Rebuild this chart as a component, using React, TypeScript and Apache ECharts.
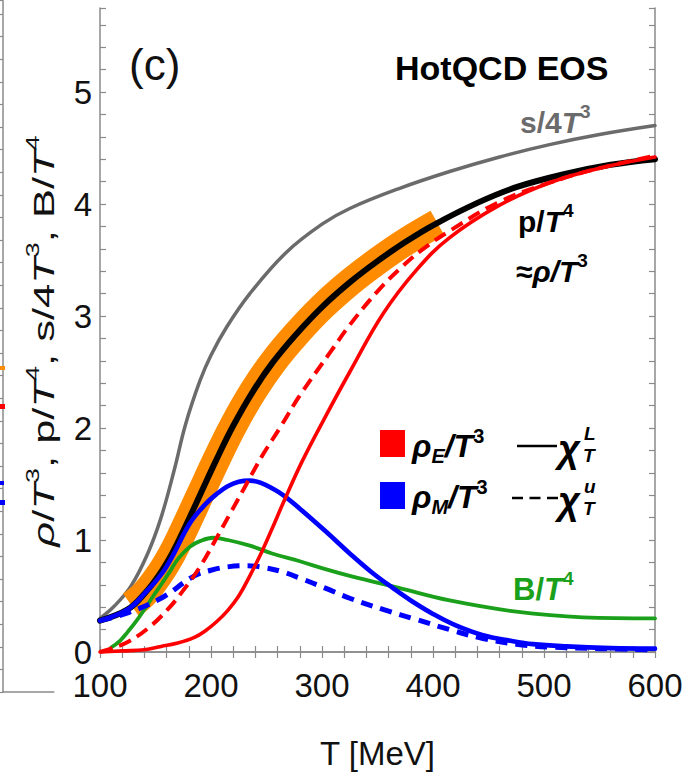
import React, { useEffect, useRef } from 'react';
import * as echarts from 'echarts';

// ---------- data (T in MeV, value dimensionless) ----------
const grayT = [100, 113, 128, 143, 155, 167, 177, 190, 200, 214, 235, 268, 300, 325, 370, 415, 460, 505, 550, 600];
const grayV = [0.30, 0.41, 0.59, 0.88, 1.20, 1.63, 2.03, 2.42, 2.65, 2.90, 3.20, 3.57, 3.82, 3.96, 4.14, 4.29, 4.42, 4.53, 4.62, 4.70];

const blackT = [100, 125, 140, 154, 165, 175, 190, 205, 220, 238, 256, 277, 300, 325, 350, 375, 400, 440, 475, 520, 560, 600];
const blackV = [0.28, 0.38, 0.52, 0.70, 0.88, 1.08, 1.40, 1.72, 2.02, 2.33, 2.59, 2.84, 3.08, 3.30, 3.49, 3.66, 3.81, 4.01, 4.15, 4.27, 4.35, 4.40];

const bandT = [128, 140, 154, 165, 175, 190, 205, 220, 238, 256, 277, 300, 325, 350, 375, 404];
const bandV = [0.42, 0.52, 0.70, 0.88, 1.08, 1.40, 1.72, 2.02, 2.33, 2.59, 2.84, 3.08, 3.30, 3.49, 3.66, 3.83];

const redLT = [100, 120, 140, 155, 170, 185, 195, 205, 215, 225, 235, 246, 255, 265, 282, 303, 325, 355, 385, 415, 460, 505, 550, 600];
const redLV = [0.00, 0.01, 0.02, 0.05, 0.08, 0.13, 0.19, 0.27, 0.37, 0.50, 0.68, 0.90, 1.10, 1.33, 1.70, 2.10, 2.50, 3.02, 3.41, 3.70, 3.99, 4.19, 4.32, 4.42];

const redUT = [100, 110, 125, 143, 161, 175, 190, 204, 218, 232, 246, 262, 280, 307, 325, 350, 370, 390, 415, 460, 505, 550, 600];
const redUV = [0.00, 0.03, 0.09, 0.21, 0.38, 0.55, 0.76, 1.00, 1.25, 1.50, 1.75, 2.00, 2.29, 2.67, 2.92, 3.22, 3.42, 3.59, 3.76, 4.02, 4.19, 4.32, 4.43];

const blueLT = [100, 125, 140, 155, 165, 181, 195, 205, 215, 225, 235, 245, 257, 265, 280, 303, 325, 345, 364, 380, 400, 420, 445, 470, 490, 520, 560, 600];
const blueLV = [0.28, 0.38, 0.52, 0.69, 0.85, 1.15, 1.32, 1.41, 1.48, 1.52, 1.53, 1.51, 1.45, 1.40, 1.28, 1.08, 0.88, 0.71, 0.57, 0.46, 0.34, 0.24, 0.15, 0.10, 0.07, 0.05, 0.035, 0.03];

const blueUT = [100, 125, 155, 185, 200, 215, 233, 250, 263, 280, 303, 325, 355, 385, 415, 445, 475, 505, 550, 600];
const blueUV = [0.28, 0.35, 0.48, 0.68, 0.73, 0.76, 0.77, 0.75, 0.72, 0.66, 0.57, 0.48, 0.38, 0.29, 0.20, 0.12, 0.07, 0.044, 0.03, 0.02];

const greenT = [110, 118, 125, 133, 140, 148, 155, 163, 171, 181, 190, 202, 215, 235, 255, 280, 303, 325, 370, 415, 475, 535, 600];
const greenV = [0.04, 0.10, 0.18, 0.28, 0.38, 0.50, 0.60, 0.72, 0.84, 0.94, 0.99, 1.02, 1.00, 0.95, 0.88, 0.81, 0.74, 0.68, 0.57, 0.46, 0.36, 0.31, 0.30];

// axis ranges / ticks
const xMin = 100, xMax = 600, xStep = 20, xLabelStep = 100;
const yMin = 0, yMax = 5.75, yStep = 0.2;

const FF = '"Liberation Sans", Arial, Helvetica, sans-serif';
const FRAME = '#8a8a8a';

const pairs = (t: number[], v: number[]) => t.map((x, i) => [x, v[i]]);

function richSet(size: number, color: string, weight: string, mainItalic = false) {
  const small = Math.round(size * 0.62);
  const base = { fontSize: size, fontFamily: FF, fontWeight: weight, fill: color, lineHeight: 40, verticalAlign: 'middle' };
  return {
    n: { ...base, fontStyle: mainItalic ? 'italic' : 'normal' },
    i: { ...base, fontStyle: 'italic' },
    s: { fontSize: small, fontFamily: FF, fontWeight: weight, fill: color, fontStyle: 'normal', lineHeight: 15, verticalAlign: 'top' },
    d: { fontSize: small, fontFamily: FF, fontWeight: weight, fill: color, fontStyle: 'italic', lineHeight: 30, verticalAlign: 'bottom' },
  };
}

function txt(x: number, y: number, text: string, rich: any, extra: any = {}) {
  return {
    type: 'text',
    x,
    y,
    z: 100,
    ...extra,
    style: { text, rich, align: 'left', verticalAlign: 'middle', fontFamily: FF },
  };
}

function plain(x: number, y: number, text: string, size: number, color: string, weight: string, style = 'normal') {
  return {
    type: 'text',
    x,
    y,
    z: 100,
    style: { text, fill: color, fontSize: size, fontFamily: FF, fontWeight: weight, fontStyle: style, align: 'left', verticalAlign: 'middle' },
  };
}

function lineSeries(name: string, t: number[], v: number[], color: string, width: number, dash: any = 'solid', cap = 'round') {
  return {
    name,
    type: 'line',
    data: pairs(t, v),
    showSymbol: false,
    symbol: 'none',
    smooth: 0.4,
    clip: false,
    silent: true,
    lineStyle: { color, width, type: dash, cap, join: 'round' },
  };
}

export default function App() {
  const ref = useRef<HTMLDivElement>(null);

  useEffect(() => {
    const chart = echarts.init(ref.current!, null, { renderer: 'svg' });

    const isMult = (v: number, s: number) => Math.abs(v / s - Math.round(v / s)) < 1e-6;

    const commonAxisLine = { show: true, lineStyle: { color: FRAME, width: 1.5 } };
    const commonTick = { show: true, inside: true, length: 6, lineStyle: { color: FRAME, width: 1.2 } };

    const option: any = {
      animation: false,
      backgroundColor: '#ffffff',
      grid: [
        { left: 100, top: 8, width: 555, height: 652, containLabel: false },
        { left: -200, top: 0, width: 203, height: 692, containLabel: false },
      ],
      xAxis: [
        {
          gridIndex: 0, type: 'value', min: xMin, max: xMax, interval: xStep, position: 'bottom',
          axisLine: commonAxisLine, axisTick: commonTick, splitLine: { show: false },
          axisLabel: {
            formatter: (v: number) => (isMult(v, xLabelStep) ? String(v) : ''),
            fontSize: 33, color: '#111', fontFamily: FF, margin: 17,
          },
          name: 'T [MeV]', nameLocation: 'middle', nameGap: 85,
          nameTextStyle: { fontSize: 33, color: '#111', fontFamily: FF },
        },
        {
          gridIndex: 0, type: 'value', min: xMin, max: xMax, interval: xStep, position: 'top',
          axisLine: commonAxisLine, axisTick: commonTick, splitLine: { show: false }, axisLabel: { show: false },
        },
        {
          gridIndex: 1, type: 'value', min: 0, max: 1, position: 'bottom',
          axisLine: commonAxisLine, axisTick: { show: false }, splitLine: { show: false }, axisLabel: { show: false },
        },
      ],
      yAxis: [
        {
          gridIndex: 0, type: 'value', min: yMin, max: yMax, interval: yStep, position: 'left',
          axisLine: commonAxisLine, axisTick: commonTick, splitLine: { show: false },
          axisLabel: {
            formatter: (v: number) => (isMult(v, 1) ? String(Math.round(v)) : ''),
            fontSize: 33, color: '#111', fontFamily: FF, margin: 8,
          },
        },
        {
          gridIndex: 0, type: 'value', min: yMin, max: yMax, interval: yStep, position: 'right',
          axisLine: commonAxisLine, axisTick: commonTick, splitLine: { show: false }, axisLabel: { show: false },
        },
        {
          gridIndex: 1, type: 'value', min: 0, max: 30.62, interval: 1, position: 'right',
          axisLine: commonAxisLine, axisTick: { show: true, inside: true, length: 5, lineStyle: { color: FRAME, width: 1.2 } },
          splitLine: { show: false }, axisLabel: { show: false },
        },
      ],
      series: [
        lineSeries('s/4T3', grayT, grayV, '#6b6b6b', 3.5),
        lineSeries('HotQCD band', bandT, bandV, '#ff8c00', 28, 'solid', 'butt'),
        lineSeries('p/T4', blackT, blackV, '#000000', 6),
        lineSeries('B/T4', greenT, greenV, '#1ba01b', 3.8),
        lineSeries('rhoM chiU', blueUT, blueUV, '#0000ff', 5, [12, 8], 'butt'),
        lineSeries('rhoM chiL', blueLT, blueLV, '#0000ff', 4.6),
        lineSeries('rhoE chiL', redLT, redLV, '#ff0000', 3.6),
        lineSeries('rhoE chiU', redUT, redUV, '#ff0000', 4, [13, 7], 'butt'),
      ],
      graphic: [
        // y axis title (stretched along its direction, as in the figure)
        {
          type: 'text', x: 44, y: 341, rotation: Math.PI / 2, scaleX: 1.5, scaleY: 1, z: 100,
          style: {
            text: '{i|ρ}{n|/}{i|T}{s|3}{n|, p/}{i|T}{s|4}{n|, s/4}{i|T}{s|3}{n|, B/}{i|T}{s|4}',
            rich: richSet(29, '#111', 'normal'),
            align: 'center', verticalAlign: 'middle', fontFamily: FF,
          },
        },
        plain(129, 64, '(c)', 44, '#111', 'normal'),
        plain(395, 68, 'HotQCD EOS', 34, '#000', 'bold'),
        txt(520, 122, '{n|s/4}{i|T}{s|3}', richSet(30, '#6b6b6b', 'bold')),
        txt(518, 221, '{n|p/}{i|T}{s|4}', richSet(30, '#000', 'bold')),
        txt(516, 271, '{n|≈}{i|ρ/T}{s|3}', richSet(30, '#000', 'bold')),
        txt(513, 589, '{n|B/}{i|T}{s|4}', richSet(31, '#1ba01b', 'bold')),
        // legend
        { type: 'rect', z: 100, shape: { x: 380, y: 430, width: 25, height: 27 }, style: { fill: '#ff0000' } },
        { type: 'rect', z: 100, shape: { x: 380, y: 482, width: 25, height: 27 }, style: { fill: '#0000ff' } },
        txt(412, 446, '{i|ρ}{d|E}{i|/T}{s|3}', richSet(32, '#000', 'bold')),
        txt(412, 497, '{i|ρ}{d|M}{i|/T}{s|3}', richSet(32, '#000', 'bold')),
        { type: 'line', z: 100, shape: { x1: 517, y1: 446, x2: 557, y2: 446 }, style: { stroke: '#000', lineWidth: 2.6 } },
        { type: 'line', z: 100, shape: { x1: 512, y1: 498, x2: 558, y2: 498 }, style: { stroke: '#000', lineWidth: 2.6, lineDash: [11, 6.5] } },
        plain(558, 449, 'χ', 38, '#000', 'bold', 'italic'),
        plain(558, 501, 'χ', 38, '#000', 'bold', 'italic'),
        plain(584, 433, 'L', 19, '#000', 'bold', 'italic'),
        plain(583, 455, 'T', 19, '#000', 'bold', 'italic'),
        plain(584, 486, 'u', 19, '#000', 'bold', 'italic'),
        plain(583, 508, 'T', 19, '#000', 'bold', 'italic'),
        // clipped marks of the neighbouring panel
        { type: 'rect', z: 100, shape: { x: 0, y: 366, width: 5, height: 4 }, style: { fill: '#ff8c00' } },
        { type: 'rect', z: 100, shape: { x: 0, y: 404, width: 5, height: 5 }, style: { fill: '#ff0000' } },
        { type: 'rect', z: 100, shape: { x: 0, y: 481, width: 4, height: 4 }, style: { fill: '#0000ff' } },
        { type: 'rect', z: 100, shape: { x: 0, y: 500, width: 5, height: 5 }, style: { fill: '#0000ff' } },
      ],
    };

    chart.setOption(option);
    return () => chart.dispose();
  }, []);

  return <div ref={ref} style={{ position: 'absolute', left: 0, top: 0, width: 693, height: 775 }} />;
}
